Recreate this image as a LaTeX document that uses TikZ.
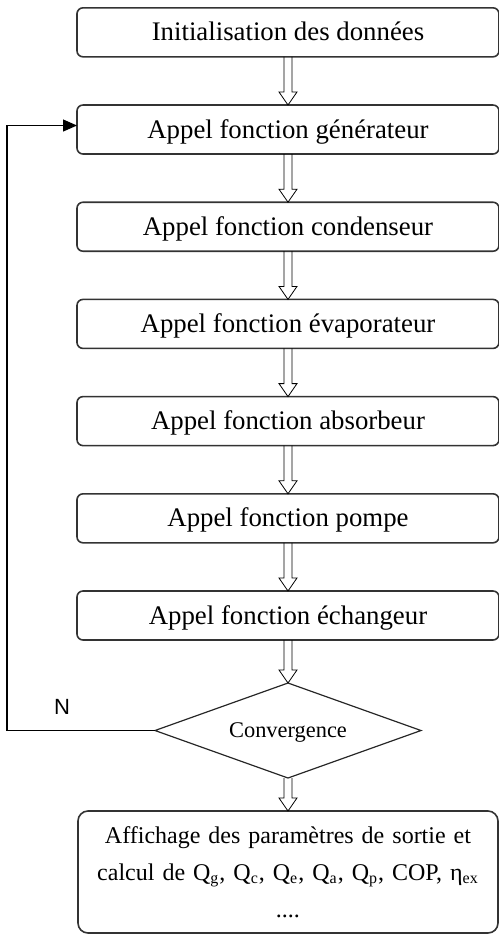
\documentclass[tikz,border=0pt]{standalone}
\usepackage{fontspec}
\setmainfont{Liberation Serif}
\newfontfamily\labelfont{Liberation Sans}
\usepackage{tikz}
\usetikzlibrary{matrix,arrows.meta,shapes.geometric,calc}

\newcommand{\resultat}{Affichage des paramètres de sortie et\par calcul de Q\textsubscript{g}, Q\textsubscript{c}, Q\textsubscript{e}, Q\textsubscript{a}, Q\textsubscript{p}, COP, η\textsubscript{ex}\par ....\vspace{2pt}}

\tikzset{
	frame/.style={draw=black!80, line width=0.8pt, rounded corners=3pt, inner sep=2pt},
	box/.style={frame, minimum width=211pt, minimum height=24.5pt, execute at begin node={\vphantom{Ég}}, font=\fontsize{13.4}{15}\selectfont},
	decision/.style={draw=black!85, line width=0.6pt, sharp corners, diamond, aspect=2.8, minimum width=133pt, minimum height=47.5pt, inner sep=0pt, font=\fontsize{11.2}{13}\selectfont},
	output/.style={rounded corners=5pt, minimum width=210pt, minimum height=61pt, text width=204pt, align=center, font=\fontsize{12}{18.5}\selectfont},
	hollow/.style={line width=0.5pt, to path={let \p1=(\tikztostart), \p2=(\tikztotarget) in
		(\x1-2pt,\y1) -- (\x1-2pt,\y2+6.5pt) -- (\x1-4.5pt,\y2+6.5pt) -- (\x1,\y2)
		-- (\x1+4.5pt,\y2+6.5pt) -- (\x1+2pt,\y2+6.5pt) -- (\x1+2pt,\y1)}}
}

\begin{document}
\begin{tikzpicture}[x=0.5pt, y=-0.5pt]
		\useasboundingbox (0,0) rectangle (499,934);
		\matrix (m) [matrix of nodes, row sep=23.3pt, inner sep=0pt, outer sep=0pt, nodes={box}, anchor=north] at (288,7)
		{
			Initialisation des données \\
			Appel fonction générateur \\
			Appel fonction condenseur \\
			Appel fonction évaporateur \\
			Appel fonction absorbeur \\
			Appel fonction pompe \\
			Appel fonction échangeur \\[-2.5pt]
			|[decision]| Convergence \\[-7.5pt]
			|[output]| \resultat \\
		};
		\foreach \i [evaluate=\i as \j using int(\i+1)] in {1,...,8}
			\draw (m-\i-1.south) to[hollow] (m-\j-1.north);
		\coordinate (back) at (7,731);
		\draw[line width=0.6pt, -{Triangle[length=7pt,width=6pt]}]
		(m-8-1.west) -- (m-8-1.west -| back) |- ([yshift=2pt]m-2-1.west);
		\node[font=\labelfont\fontsize{11}{13}\selectfont] (n) at (62,707) {N};
		\end{tikzpicture}
\end{document}
